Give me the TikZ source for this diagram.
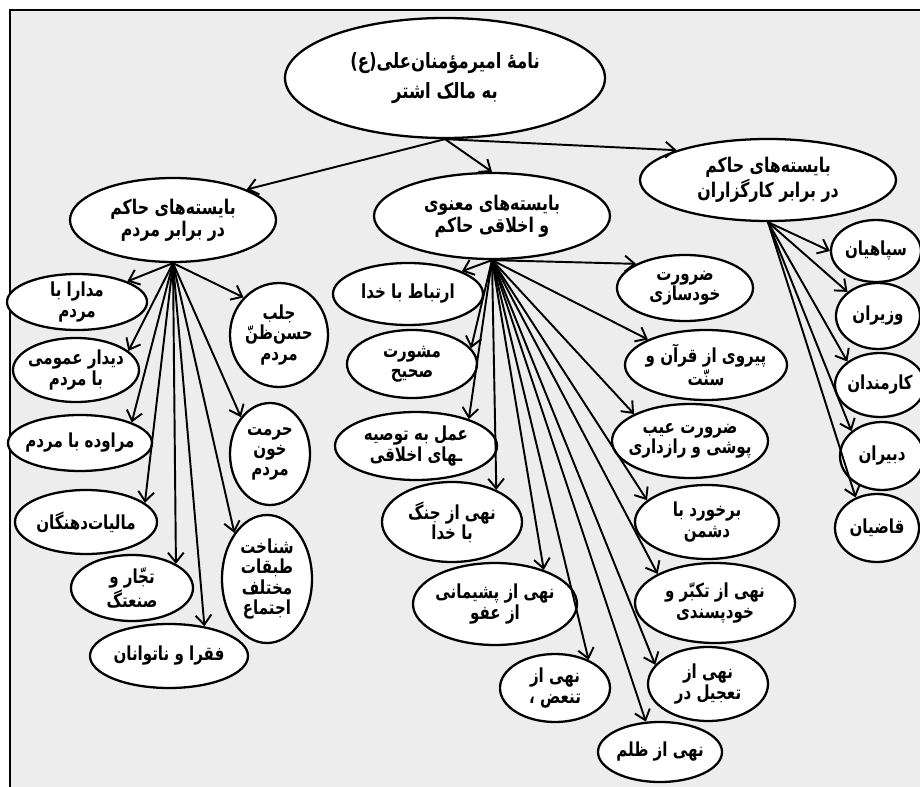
\documentclass[tikz,border=0pt]{standalone}
\usepackage{fontspec}
\newfontfamily\fa[Script=Arabic,FakeStretch=0.78]{DejaVu Sans}
\TeXXeTstate=1
\usetikzlibrary{shapes.geometric,arrows.meta}
\newcommand{\rl}[1]{\beginR#1\endR}

\begin{document}
\begin{tikzpicture}[x=0.02cm,y=-0.02cm,
  bub/.style n args={2}{ellipse,draw,line width=1.3pt,fill=white,inner sep=-3em,
    minimum width=#1*0.02cm,minimum height=#2*0.02cm,align=center},
  rootbox/.style={font=\fa\bfseries\fontsize{12}{17}\selectfont},
  headbox/.style={font=\fa\bfseries\fontsize{11.5}{12.5}\selectfont},
  leafbox/.style={font=\fa\bfseries\fontsize{11}{11.5}\selectfont},
  link/.style={line width=1.1pt,-{Straight Barb[length=5.5pt,width=9pt]}}]
	\useasboundingbox (0,0) rectangle (920,787);
	\fill[white] (0,0) rectangle (920,787);
	\fill[black!7] (10,10) rectangle (920,787);
	\draw[line width=1.5pt] (10,787) -- (10,10) -- (920,10);

    % ریشه و سه شاخه اصلی
    \node[bub={320}{120},rootbox] (nameh) at (445,78) {\rl{نامهٔ امیرمؤمنان‌علی(ع)}\\\rl{به مالک اشتر}};
    \node[bub={206}{84},headbox] (mardom) at (173,220) {\rl{بایسته‌های حاکم}\\\rl{در برابر مردم}};
    \node[bub={236}{86},headbox] (akhlagh) at (492,216) {\rl{بایسته‌های معنوی}\\\rl{و اخلاقی حاکم}};
    \node[bub={256}{82},headbox] (kargozar) at (768,180) {\rl{بایسته‌های حاکم}\\\rl{در برابر کارگزاران}};

    % بایسته‌های حاکم در برابر مردم
    \node[bub={140}{56},leafbox] (madara) at (77,302) {\rl{مدارا با}\\\rl{مردم}};
    \node[bub={126}{64},leafbox] (didar) at (76,370) {\rl{دیدار عمومی}\\\rl{با مردم}};
    \node[bub={144}{56},leafbox] (moravede) at (80,443) {\rl{مراوده با مردم}};
    \node[bub={142}{64},leafbox] (maliat) at (86,522) {\rl{مالیات‌دهنگان}};
    \node[bub={122}{66},leafbox] (tojjar) at (132,588) {\rl{تجّار و}\\\rl{صنعتگ}};
    \node[bub={158}{64},leafbox] (foghara) at (169,656) {\rl{فقرا و ناتوانان}};
    \node[bub={98}{104},leafbox] (jalb) at (279,335) {\rl{جلب}\\\rl{حسن‌ظنّ}\\\rl{مردم}};
    \node[bub={80}{102},leafbox] (hormat) at (270,454) {\rl{حرمت}\\\rl{خون}\\\rl{مردم}};
    \node[bub={90}{128},leafbox] (shenakht) at (267,579) {\rl{شناخت}\\\rl{طبقات}\\\rl{مختلف}\\\rl{اجتماع}};

    % بایسته‌های معنوی و اخلاقی حاکم
    \node[bub={150}{62},leafbox] (ertebat) at (408,294) {\rl{ارتباط با خدا}};
    \node[bub={130}{68},leafbox] (mashvarat) at (412,364) {\rl{مشورت}\\\rl{صحیح}};
    \node[bub={162}{68},leafbox] (amal) at (416,446) {\rl{عمل به توصیه}\\\rl{ـهای اخلاقی}};
    \node[bub={140}{80},leafbox] (jang) at (452,522) {\rl{نهی از جنگ}\\\rl{با خدا}};
    \node[bub={164}{82},leafbox] (pashimani) at (495,604) {\rl{نهی از پشیمانی}\\\rl{از عفو}};
    \node[bub={110}{68},leafbox] (tabiz) at (555,688) {\rl{نهی از}\\\rl{تنعض ،}};
    \node[bub={124}{60},leafbox] (zolm) at (660,752) {\rl{نهی از ظلم}};
    \node[bub={120}{74},leafbox] (tajil) at (708,684) {\rl{نهی از}\\\rl{تعجیل در}};
    \node[bub={160}{80},leafbox] (takabbor) at (715,603) {\rl{نهی از تکبّر و}\\\rl{خودپسندی}};
    \node[bub={144}{74},leafbox] (barkhord) at (707,522) {\rl{برخورد با}\\\rl{دشمن}};
    \node[bub={156}{74},leafbox] (eyb) at (690,441) {\rl{ضرورت عیب}\\\rl{پوشی و رازداری}};
    \node[bub={162}{70},leafbox] (peyravi) at (706,365) {\rl{پیروی از قرآن و}\\\rl{سنّت}};
    \node[bub={136}{66},leafbox] (khodsazi) at (685,288) {\rl{ضرورت}\\\rl{خودسازی}};

    % بایسته‌های حاکم در برابر کارگزاران
    \node[bub={90}{62},leafbox] (sepah) at (876,251) {\rl{سپاهیان}};
    \node[bub={84}{66},leafbox] (vozara) at (878,316) {\rl{وزیران}};
    \node[bub={90}{64},leafbox] (karmand) at (880,385) {\rl{کارمندان}};
    \node[bub={84}{68},leafbox] (dabir) at (882,456) {\rl{دبیران}};
    \node[bub={84}{68},leafbox] (ghazi) at (877,528) {\rl{قاضیان}};

    % پیکان‌های ریشه
    \draw[link] (nameh.south) -- (mardom.north east);
    \draw[link] (nameh.south) -- (akhlagh.north);
    \draw[link] (nameh.south) -- (kargozar.north west);

    % پیکان‌های شاخه مردم
    \draw[link] (mardom.south) -- (madara.north east);
    \draw[link] (mardom.south) -- (didar.20);
    \draw[link] (mardom.south) -- (moravede.north east);
    \draw[link] (mardom.south) -- (maliat.18);
    \draw[link] (mardom.south) -- (tojjar.north east);
    \draw[link] (mardom.south) -- (foghara.40);
    \draw[link] (mardom.south) -- (jalb.north west);
    \draw[link] (mardom.south) -- (hormat.north west);
    \draw[link] (mardom.south) -- (shenakht.north west);

    % پیکان‌های شاخه اخلاق
    \draw[link] (akhlagh.south) -- (ertebat.north east);
    \draw[link] (akhlagh.south) -- (mashvarat.15);
    \draw[link] (akhlagh.south) -- (amal.27);
    \draw[link] (akhlagh.south) -- (jang.36);
    \draw[link] (akhlagh.south) -- (pashimani.35);
    \draw[link] (akhlagh.south) -- (tabiz.40);
    \draw[link] (akhlagh.south) -- (zolm.115);
    \draw[link] (akhlagh.south) -- (tajil.160);
    \draw[link] (akhlagh.south) -- (takabbor.north west);
    \draw[link] (akhlagh.south) -- (barkhord.160);
    \draw[link] (akhlagh.south) -- (eyb.north west);
    \draw[link] (akhlagh.south) -- (peyravi.north west);
    \draw[link] (akhlagh.south) -- (khodsazi.north west);

    % پیکان‌های شاخه کارگزاران
    \draw[link] (kargozar.south) -- (sepah.west);
    \draw[link] (kargozar.south) -- (vozara.north west);
    \draw[link] (kargozar.south) -- (karmand.north west);
    \draw[link] (kargozar.south) -- (dabir.north west);
    \draw[link] (kargozar.south) -- (ghazi.125);

\end{tikzpicture}
\end{document}
